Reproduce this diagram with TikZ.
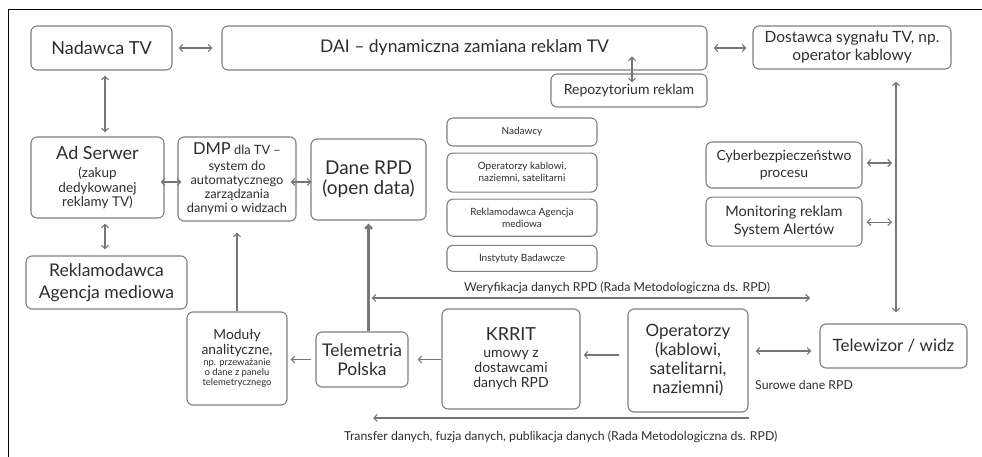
\documentclass[tikz,border=0pt]{standalone}
\usepackage{fontspec}
\setmainfont{Lato}
\usetikzlibrary{positioning,arrows.meta}
\definecolor{boxgray}{RGB}{128,128,128}
\definecolor{txtgray}{RGB}{45,45,45}
\definecolor{arrgray}{RGB}{118,118,118}
\newcommand{\fs}[2]{\fontsize{#1}{#2}\selectfont}

\begin{document}
\begin{tikzpicture}[x=1pt, y=-1pt,
  box/.style 2 args={draw=boxgray, line width=1.1pt, rounded corners=6pt, align=center, text=txtgray, inner sep=1pt, minimum width=#1, minimum height=#2},
  arrow/.style={-{Straight Barb[length=3.5pt, width=7pt]}, line width=1.1pt, arrgray},
  darrow/.style={{Straight Barb[length=3.5pt, width=7pt]}-{Straight Barb[length=3.5pt, width=7pt]}, line width=1.1pt, arrgray},
  lbl/.style={text=txtgray, font=\fs{12.3}{14}, inner sep=1pt},
  node distance=6pt]
  \useasboundingbox (0,0) rectangle (982,457);
  \draw[line width=1pt] (8,457) -- (8,10) -- (982,10);
  % top row
  \node[box={141pt}{44pt}, font=\fs{18}{21}] (nad) at (101.5,48) {Nadawca TV};
  \node[box={485pt}{44pt}, font=\fs{17.5}{21}] (dai) at (464.5,48) {DAI – dynamiczna zamiana reklam TV};
  \node[box={198pt}{43pt}, font=\fs{15.5}{18}] (dost) at (852,47.5) {Dostawca sygnału TV, np.\\operator kablowy};
  \node[box={156pt}{33pt}, font=\fs{14}{16}] (repo) at (629,90.5) {Repozytorium reklam};
  % middle row
  \node[box={133pt}{81pt}, font=\fs{13.5}{14.5}] (ad) at (97.5,177.5) {{\fs{18}{21}Ad Serwer}\\[4pt](zakup\\dedykowanej\\reklamy TV)};
  \node[box={118pt}{84pt}, font=\fs{12.8}{14}] (dmp) at (237,179) {{\fs{16.5}{19}DMP} dla TV –\\[2pt]system do\\automatycznego\\zarządzania\\danymi o widzach};
  \node[box={115pt}{81pt}, font=\fs{19}{20}] (dane) at (368.5,179.5) {Dane RPD\\(open data)};
  \node[box={161pt}{53pt}, font=\fs{17.5}{21.5}] (rek) at (106.5,282.5) {Reklamodawca\\Agencja mediowa};
  % stakeholders
  \node[box={150pt}{28pt}, font=\fs{10}{12.5}] (nadawcy) at (522,132) {Nadawcy};
  \node[box={150pt}{39pt}, font=\fs{10}{12.5}, below=of nadawcy] (operzy) {Operatorzy kablowi,\\naziemni, satelitarni};
  \node[box={150pt}{37pt}, font=\fs{10}{12.5}, below=of operzy] (rekag) {Reklamodawca Agencja\\mediowa};
  \node[box={150pt}{26pt}, font=\fs{10}{12.5}, below=8pt of rekag] (inst) {Instytuty Badawcze};
  \node[box={156pt}{46pt}, font=\fs{14}{17.5}] (cyber) at (784,165) {Cyberbezpieczeństwo\\procesu};
  \node[box={156pt}{49pt}, font=\fs{14.5}{17.5}, below=8pt of cyber] (mon) {Monitoring reklam\\System Alertów};
  % bottom row
  \node[box={100pt}{93pt}, font=\fs{9.4}{10}] (mod) at (237,358.5) {{\fs{13.8}{14}Moduły}\\[1pt]{\fs{13.8}{14}analityczne,}\\[1pt]np. przeważanie\\o dane z panelu\\telemetrycznego};
  \node[box={92pt}{55pt}, font=\fs{17.5}{19}] (tele) at (362,359.5) {Telemetria\\Polska};
  \node[box={138pt}{100pt}, font=\fs{14}{15}] (krrit) at (511,359) {{\fs{18}{21}KRRIT}\\[2pt]umowy z\\dostawcami\\danych RPD};
  \node[box={120pt}{103pt}, font=\fs{17}{19}] (oper) at (688,360.5) {Operatorzy\\(kablowi,\\satelitarni,\\naziemni)};
  \node[box={147pt}{44pt}, font=\fs{17}{20}] (telew) at (893.5,346) {Telewizor / widz};
  \node[lbl, anchor=west] (sur) at (754,385) {Surowe dane RPD};
  \coordinate (rp) at ([xshift=3pt]repo.north);
  \coordinate (vl) at ([xshift=2.5pt]telew.north);
  \coordinate (wer) at (810,298);
  \coordinate (tr) at (373,418);
  % connectors
  \draw[darrow, shorten <=6pt, shorten >=9pt] (nad) -- (dai);
  \draw[darrow, shorten <=6pt, shorten >=6pt] (dai.east) -- (dai.east -| dost.west);
  \draw[darrow] ([yshift=17pt]rp) -- ([yshift=-9pt]rp);
  \draw[darrow, shorten <=5pt, shorten >=4pt] ([xshift=3.5pt]nad.south) -- ([xshift=3.5pt]nad.south |- ad.north);
  \draw[darrow, shorten <=5pt, shorten >=6pt] ([xshift=-1.5pt]rek.north |- ad.south) -- ([xshift=-1.5pt]rek.north);
  \draw[darrow] ([shift={(-4pt,-4.5pt)}]ad.east) -- ([shift={(4pt,-4.5pt)}]ad.east -| dmp.west);
  \draw[darrow] ([shift={(-6pt,-3pt)}]dmp.east) -- ([shift={(1pt,-3pt)}]dmp.east -| dane.west);
  \draw[arrow, shorten >=11pt] (mod.north) -- (mod.north |- dmp.south);
  \draw[arrow, line width=2.4pt, shorten >=3pt] (dane.south |- tele.north) -- (dane.south);
  \draw[darrow] ([xshift=3pt]dane.south |- wer) -- node[lbl, above=3pt, pos=0.56] {Weryfikacja danych RPD (Rada Metodologiczna ds. RPD)} (wer);
  \draw[arrow, shorten >=9pt] (krrit.west |- tele.east) -- (tele.east);
  \draw[arrow, shorten <=4pt, shorten >=3pt] (tele.west) -- (tele.west -| mod.east);
  \draw[arrow, shorten <=8pt, shorten >=3pt] ([yshift=5.5pt]oper.west) -- ([yshift=5.5pt]oper.west -| krrit.east);
  \draw[darrow, shorten <=7pt, shorten >=8pt] ([yshift=9.5pt]oper.east) -- ([yshift=9.5pt]oper.east -| telew.west);
  \draw[darrow, shorten <=12pt, shorten >=11pt] (vl |- dost.south) -- (vl);
  \foreach \n/\dy in {cyber/2pt, mon/-0.5pt}
    \draw[darrow, shorten <=4pt, shorten >=4pt] ([yshift=\dy]\n.east) -- ([yshift=\dy]\n.east -| vl);
  \draw[arrow] (oper.east |- tr) -- node[lbl, below=11pt] {Transfer danych, fuzja danych, publikacja danych (Rada Metodologiczna ds. RPD)} (tr);
\end{tikzpicture}
\end{document}
